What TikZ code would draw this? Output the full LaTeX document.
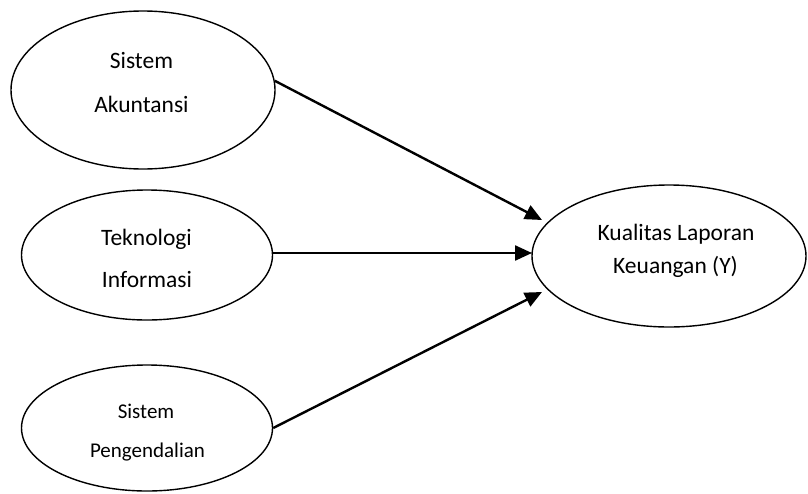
\documentclass[tikz,border=0pt]{standalone}
\usepackage{fontspec}
\setmainfont{Carlito}
\usetikzlibrary{shapes.geometric,arrows.meta}
\begin{document}
\begin{tikzpicture}[x=1pt,y=-1pt,
  oval/.style={draw=black,line width=1.4pt,ellipse,inner sep=0pt},
  txt/.style={anchor=base,inner sep=0pt,font=\fontsize{23.5}{28}\selectfont},
  txts/.style={anchor=base,inner sep=0pt,font=\fontsize{21}{25}\selectfont},
  conn/.style={line width=2.4pt,-{Triangle[length=17pt,width=15pt]}}]
\useasboundingbox (0,0) rectangle (808,493);
\node[oval,minimum width=264pt,minimum height=158pt] (e1) at (143,90) {};
\node[oval,minimum width=251pt,minimum height=130pt] (e2) at (147,255) {};
\node[oval,minimum width=251pt,minimum height=126pt] (e3) at (147,428) {};
\node[oval,minimum width=274pt,minimum height=142pt] (e4) at (669,256) {};
\node[txt] (a1) at (141.5,68) {Sistem};
\node[txt] (a2) at (141.5,112) {Akuntansi};
\node[txt] (b1) at (146.5,245) {Teknologi};
\node[txt] (b2) at (147,287) {Informasi};
\node[txts] (c1) at (146,418) {Sistem};
\node[txts] (c2) at (147.5,457) {Pengendalian};
\node[txt] (d1) at (676,240) {Kualitas Laporan};
\node[txt] (d2) at (675.5,273) {Keuangan (Y)};
\coordinate (t1) at (542,220);
\coordinate (t2) at (532,253);
\coordinate (t3) at (542,292);
\draw[conn] (e1.4) -- (t1);
\draw[conn] (e2.east |- t2) -- (t2);
\draw[conn] (e3.east) -- (t3);
\end{tikzpicture}
\end{document}
